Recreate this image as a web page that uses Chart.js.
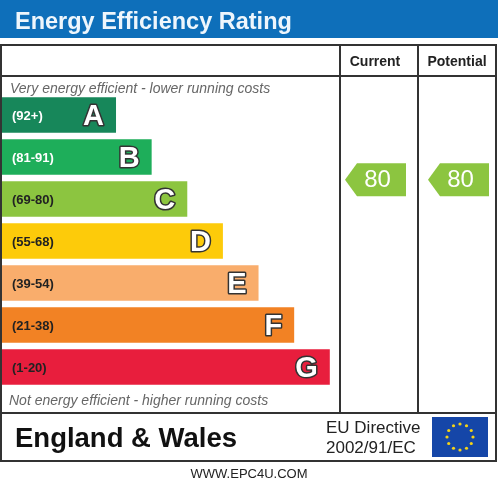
<!DOCTYPE html>
<html>
<head>
<meta charset="utf-8">
<script src="https://cdn.jsdelivr.net/npm/chart.js@4"></script>
<style>
  html, body { margin: 0; padding: 0; background: #fff; }
  #wrap { width: 498px; height: 481px; }
</style>
</head>
<body>
<div id="wrap"><canvas id="chart" width="498" height="481"></canvas></div>
<script>
// bands, top (best) to bottom (worst)
const bands = ['A', 'B', 'C', 'D', 'E', 'F', 'G'];
const bandRanges = ['(92+)', '(81-91)', '(69-80)', '(55-68)', '(39-54)', '(21-38)', '(1-20)'];
const bandMin = [92, 81, 69, 55, 39, 21, 1];
const bandMax = [100, 91, 80, 68, 54, 38, 20];
// length of each band bar
const barLength = [32, 42, 52, 62, 72, 82, 92];
const bandColors = ['#17875a', '#1eae5a', '#8cc540', '#fdcb0a', '#f9ad6c', '#f28224', '#e81e3d'];
const rangeTextColors = ['#ffffff', '#ffffff', '#222222', '#222222', '#222222', '#222222', '#222222'];

const currentRating = 80;
const potentialRating = 80;

const FONT = '"Liberation Sans", Arial, sans-serif';

function bandOf(r) {
    for (let i = 0; i < bands.length; i++) {
        if (r >= bandMin[i] && r <= bandMax[i]) return i;
    }
    return bands.length - 1;
}

// frame, title, header and footer
const frame = {
    id: 'frame',
    beforeDraw(chart) {
        const c = chart.ctx;
        c.save();
        c.fillStyle = '#ffffff';
        c.fillRect(0, 0, 498, 481);

        // title bar
        c.fillStyle = '#0e6fba';
        c.fillRect(0, 0, 498, 38);
        c.fillStyle = '#eef6fc';
        c.font = 'bold 23.5px ' + FONT;
        c.textBaseline = 'alphabetic';
        c.fillText('Energy Efficiency Rating', 15, 29);

        // table lines
        c.strokeStyle = '#333';
        c.lineWidth = 2;
        c.strokeRect(1, 45, 495, 416);
        c.beginPath();
        c.moveTo(0, 76); c.lineTo(497, 76);
        c.moveTo(0, 413); c.lineTo(497, 413);
        c.moveTo(340, 45); c.lineTo(340, 413);
        c.moveTo(418, 45); c.lineTo(418, 413);
        c.stroke();

        c.fillStyle = '#222';
        c.font = 'bold 14px ' + FONT;
        c.textAlign = 'center';
        c.fillText('Current', 375, 66);
        c.fillText('Potential', 457, 66);

        c.textAlign = 'left';
        c.fillStyle = '#666';
        c.font = 'italic 14px ' + FONT;
        c.fillText('Very energy efficient - lower running costs', 10, 93);
        c.fillText('Not energy efficient - higher running costs', 9, 405);

        // footer
        c.fillStyle = '#111';
        c.font = 'bold 27.5px ' + FONT;
        c.fillText('England & Wales', 15, 447);
        c.fillStyle = '#222';
        c.font = '17px ' + FONT;
        c.fillText('EU Directive', 326, 433);
        c.fillText('2002/91/EC', 326, 453);

        // EU flag
        c.fillStyle = '#1546a8';
        c.fillRect(432, 417, 56, 40);
        c.fillStyle = '#f5d316';
        for (let k = 0; k < 12; k++) {
            const a = k * Math.PI / 6;
            c.beginPath();
            c.arc(460 + 13 * Math.cos(a), 437 + 13 * Math.sin(a), 1.6, 0, Math.PI * 2);
            c.fill();
        }

        c.fillStyle = '#222';
        c.font = '13px ' + FONT;
        c.textAlign = 'center';
        c.fillText('WWW.EPC4U.COM', 249, 478);
        c.restore();
    }
};

// range text, letters and the rating arrows
const labels = {
    id: 'labels',
    afterDatasetsDraw(chart) {
        const c = chart.ctx;
        const meta = chart.getDatasetMeta(0);
        const yScale = chart.scales.y;
        c.save();
        c.textBaseline = 'middle';
        meta.data.forEach((bar, i) => {
            c.textAlign = 'left';
            c.font = 'bold 13px ' + FONT;
            c.fillStyle = rangeTextColors[i];
            c.fillText(bandRanges[i], 12, bar.y + 1);

            c.textAlign = 'right';
            c.font = 'bold 29px ' + FONT;
            c.lineJoin = 'round';
            c.lineWidth = 3;
            c.strokeStyle = '#333';
            c.strokeText(bands[i], bar.x - 12, bar.y + 2);
            c.fillStyle = '#fff';
            c.fillText(bands[i], bar.x - 12, bar.y + 2);
        });

        const pitch = yScale.getPixelForValue(1) - yScale.getPixelForValue(0);
        function arrow(rating, left, right) {
            const b = bandOf(rating);
            const mid = (bandMin[b] + bandMax[b]) / 2;
            const y = yScale.getPixelForValue(b) - (rating - mid) / (bandMax[b] - bandMin[b] + 1) * pitch;
            const h = 16.5;
            c.fillStyle = bandColors[b];
            c.beginPath();
            c.moveTo(left, y);
            c.lineTo(left + 12, y - h);
            c.lineTo(right, y - h);
            c.lineTo(right, y + h);
            c.lineTo(left + 12, y + h);
            c.closePath();
            c.fill();
            c.fillStyle = '#fff';
            c.textAlign = 'center';
            c.font = '24px ' + FONT;
            c.fillText(String(rating), (left + right) / 2 + 2, y + 1);
        }
        arrow(currentRating, 345, 406);
        arrow(potentialRating, 428, 489);
        c.restore();
    }
};

new Chart(document.getElementById('chart').getContext('2d'), {
    type: 'bar',
    data: {
        labels: bands,
        datasets: [{
            data: barLength,
            backgroundColor: bandColors,
            borderWidth: 0,
            barPercentage: 0.85,
            categoryPercentage: 1
        }]
    },
    options: {
        indexAxis: 'y',
        responsive: false,
        animation: false,
        devicePixelRatio: 1,
        layout: {
            padding: { left: 2, right: 160, top: 94, bottom: 93 }
        },
        plugins: {
            legend: { display: false },
            tooltip: { enabled: false },
            title: { display: false }
        },
        scales: {
            x: { display: false, min: 0, max: 94.3 },
            y: { display: false }
        }
    },
    plugins: [frame, labels]
});
</script>
</body>
</html>
